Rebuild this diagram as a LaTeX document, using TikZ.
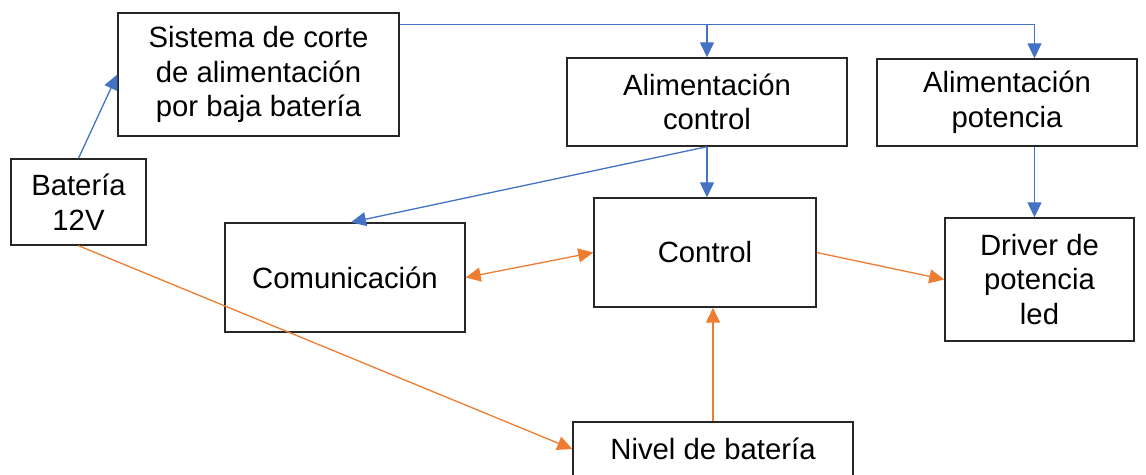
\documentclass[tikz,border=0pt]{standalone}
\usepackage{fontspec}
\setmainfont{Liberation Sans}
\usetikzlibrary{arrows.meta}
\definecolor{azul}{HTML}{4472C4}
\definecolor{naranja}{HTML}{ED7D31}

\begin{document}
\begin{tikzpicture}[x=1pt,y=-1pt,
  bloque/.style={draw=black!85,line width=1.4pt,align=center,inner sep=0pt,
    font=\fontsize{29.3}{34.5}\selectfont},
  punta/.style={-{Triangle[length=15pt,width=14pt]}},
  flechaazul/.style={draw=azul,line width=1.3pt,punta},
  flechanaranja/.style={draw=naranja,line width=1.3pt,punta}]

\clip (0,0) rectangle (1146,474);

% Bloques
\node[bloque,minimum width=281pt,minimum height=123pt] (corte) at (258.5,74.5) {Sistema de corte\\de alimentación\\por baja batería};
\node[bloque,minimum width=135pt,minimum height=86pt] (bateria) at (78.5,202) {Batería\\12V};
\node[bloque,minimum width=280pt,minimum height=88pt] (alimctrl) at (707,102) {Alimentación\\control};
\node[bloque,minimum width=260pt,minimum height=87pt] (alimpot) at (1007,102.5) {Alimentación\\potencia};
\node[bloque,minimum width=240pt,minimum height=109pt] (comunic) at (345,277.5) {Comunicación};
\node[bloque,minimum width=222pt,minimum height=109pt] (control) at (705,252.5) {Control};
\node[bloque,minimum width=189pt,minimum height=123pt] (driver) at (1039.5,279.5) {Driver de\\potencia\\led};
\node[bloque,minimum width=280pt,minimum height=54pt] (nivel) at (713,449) {Nivel de batería};

% Alimentacion (azul)
\draw[flechaazul] (bateria.north) -- (corte.west);
\draw[flechaazul] ([yshift=-12pt]corte.north east) -| (alimctrl.north);
\draw[flechaazul] ([yshift=-12pt]corte.north east) -| ([xshift=-5pt]driver.north |- alimpot.north);
\draw[flechaazul] (alimctrl.south) -- (alimctrl.south |- control.north);
\draw[flechaazul] (alimctrl.south) -- ([xshift=6pt]comunic.north);
\draw[flechaazul] ([xshift=-5pt]driver.north |- alimpot.south) -- ([xshift=-5pt]driver.north);

% Senales (naranja)
\draw[flechanaranja] (bateria.south) -- (nivel.west);
\draw[flechanaranja] (nivel.north) -- (nivel.north |- control.south);
\draw[flechanaranja,{Triangle[length=15pt,width=14pt]}-{Triangle[length=15pt,width=14pt]}] (comunic.east) -- (control.west);
\draw[flechanaranja] (control.east) -- (driver.west);

\end{tikzpicture}
\end{document}
